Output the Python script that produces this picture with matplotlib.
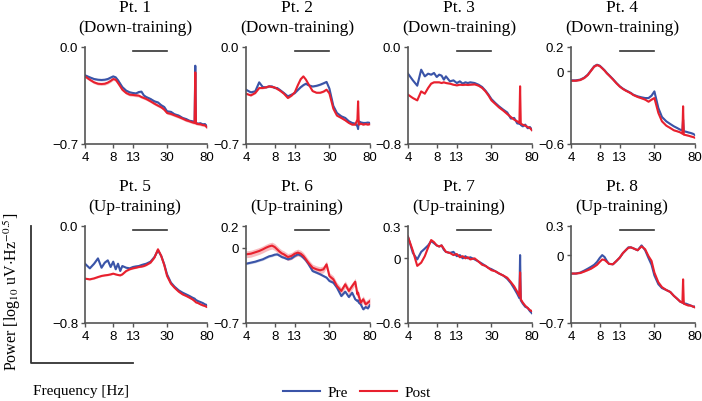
import matplotlib.pyplot as plt
import matplotlib.transforms as mtransforms
from matplotlib.lines import Line2D
from matplotlib.ticker import NullLocator

plt.rcParams["font.family"] = ["Liberation Sans", "DejaVu Sans"]
plt.rcParams["mathtext.fontset"] = "stix"

# frequency grid shared by every spectrum (Hz)
FREQS = [4, 4.5, 5, 5.5, 6, 6.5, 7, 7.5, 8, 8.5, 9, 9.5, 10,
         11, 12, 13, 14, 15, 16, 17, 18,
         20, 22, 24, 26, 28, 30,
         33, 36, 40, 44, 48, 52, 56,
         59, 60, 61,
         64, 68, 72, 76, 80]

pt1_pre = [-0.204, -0.219, -0.231, -0.236, -0.238, -0.236, -0.231, -0.221, -0.212, -0.219, -0.240, -0.265, -0.289,
           -0.315, -0.327, -0.332, -0.335, -0.325, -0.322, -0.350, -0.361,
           -0.375, -0.392, -0.400, -0.420, -0.433, -0.464,
           -0.468, -0.485, -0.495, -0.512, -0.520, -0.532, -0.536,
           -0.544, -0.135, -0.548,
           -0.553, -0.550, -0.558, -0.556, -0.572]
pt1_post = [-0.212, -0.236, -0.255, -0.265, -0.267, -0.265, -0.257, -0.245, -0.231, -0.236, -0.260, -0.284, -0.308,
            -0.332, -0.344, -0.346, -0.349, -0.351, -0.361, -0.368, -0.375,
            -0.392, -0.409, -0.423, -0.435, -0.452, -0.476,
            -0.483, -0.493, -0.505, -0.517, -0.529, -0.536, -0.544,
            -0.548, -0.183, -0.553,
            -0.555, -0.558, -0.563, -0.565, -0.580]

pt2_pre = [-0.308, -0.327, -0.320, -0.255, -0.289, -0.291, -0.284, -0.284, -0.296, -0.296, -0.308, -0.320, -0.332,
           -0.356, -0.344, -0.332, -0.310, -0.290, -0.275, -0.265, -0.275,
           -0.285, -0.280, -0.272, -0.262, -0.252, -0.300,
           -0.425, -0.476, -0.500, -0.512, -0.536, -0.548, -0.553,
           -0.572, -0.592, -0.536,
           -0.544, -0.548, -0.548, -0.545, -0.548]
pt2_post = [-0.337, -0.349, -0.332, -0.296, -0.296, -0.291, -0.284, -0.289, -0.291, -0.303, -0.313, -0.325, -0.337,
            -0.368, -0.351, -0.327, -0.275, -0.232, -0.212, -0.235, -0.265,
            -0.318, -0.330, -0.330, -0.322, -0.308, -0.335,
            -0.445, -0.495, -0.512, -0.529, -0.548, -0.560, -0.560,
            -0.524, -0.392, -0.560,
            -0.553, -0.560, -0.556, -0.560, -0.556]

pt3_pre = [-0.220, -0.275, -0.319, -0.187, -0.242, -0.220, -0.228, -0.214, -0.247, -0.228, -0.236, -0.269, -0.242,
           -0.283, -0.275, -0.297, -0.283, -0.302, -0.291, -0.297, -0.291,
           -0.297, -0.311, -0.330, -0.360, -0.393, -0.429,
           -0.462, -0.489, -0.517, -0.540, -0.590, -0.585, -0.630,
           -0.632, -0.620, -0.643,
           -0.654, -0.640, -0.670, -0.660, -0.682]
pt3_post = [-0.393, -0.421, -0.440, -0.366, -0.385, -0.338, -0.302, -0.291, -0.291, -0.291, -0.297, -0.291, -0.297,
            -0.302, -0.311, -0.316, -0.311, -0.313, -0.311, -0.313, -0.311,
            -0.308, -0.319, -0.338, -0.366, -0.401, -0.440,
            -0.470, -0.498, -0.525, -0.553, -0.577, -0.599, -0.613,
            -0.627, -0.324, -0.632,
            -0.641, -0.649, -0.660, -0.668, -0.687]

pt4_pre = [-0.075, -0.075, -0.069, -0.053, -0.028, 0.008, 0.041, 0.054, 0.046, 0.027, 0.008, -0.014, -0.031,
           -0.064, -0.097, -0.124, -0.143, -0.157, -0.168, -0.179, -0.193,
           -0.207, -0.215, -0.221, -0.221, -0.201, -0.166,
           -0.303, -0.377, -0.413, -0.435, -0.454, -0.468, -0.482,
           -0.487, -0.400, -0.495,
           -0.498, -0.504, -0.509, -0.515, -0.526]
pt4_post = [-0.078, -0.078, -0.072, -0.056, -0.031, 0.005, 0.038, 0.051, 0.043, 0.024, 0.005, -0.017, -0.034,
            -0.067, -0.100, -0.127, -0.146, -0.160, -0.171, -0.182, -0.196,
            -0.212, -0.223, -0.234, -0.251, -0.234, -0.221,
            -0.344, -0.413, -0.449, -0.468, -0.487, -0.495, -0.504,
            -0.515, -0.289, -0.523,
            -0.526, -0.531, -0.537, -0.542, -0.548]

pt5_pre = [-0.311, -0.349, -0.311, -0.267, -0.344, -0.302, -0.283, -0.338, -0.294, -0.357, -0.311, -0.371, -0.330,
           -0.344, -0.349, -0.338, -0.333, -0.330, -0.322, -0.316, -0.311,
           -0.294, -0.256, -0.201, -0.247, -0.316, -0.399,
           -0.467, -0.500, -0.531, -0.550, -0.564, -0.577, -0.591,
           -0.599, -0.605, -0.610,
           -0.619, -0.627, -0.635, -0.646, -0.652]
pt5_post = [-0.434, -0.440, -0.432, -0.421, -0.412, -0.407, -0.404, -0.399, -0.393, -0.399, -0.404, -0.407, -0.399,
            -0.371, -0.357, -0.349, -0.344, -0.338, -0.335, -0.330, -0.322,
            -0.302, -0.261, -0.192, -0.247, -0.322, -0.412,
            -0.476, -0.509, -0.542, -0.564, -0.577, -0.591, -0.605,
            -0.619, -0.624, -0.630,
            -0.635, -0.646, -0.654, -0.660, -0.668]

pt6_pre = [-0.150, -0.140, -0.131, -0.119, -0.109, -0.094, -0.081, -0.075, -0.066, -0.063, -0.075, -0.088, -0.094,
           -0.109, -0.100, -0.078, -0.063, -0.072, -0.094, -0.119, -0.150,
           -0.218, -0.233, -0.248, -0.264, -0.279, -0.310,
           -0.326, -0.372, -0.450, -0.409, -0.459, -0.419, -0.480,
           -0.496, -0.490, -0.511,
           -0.527, -0.573, -0.552, -0.564, -0.533]
pt6_post = [-0.063, -0.057, -0.044, -0.032, -0.017, -0.001, 0.011, 0.018, 0.005, -0.017, -0.038, -0.054, -0.063,
            -0.088, -0.078, -0.057, -0.047, -0.057, -0.078, -0.109, -0.140,
            -0.187, -0.202, -0.211, -0.202, -0.156, -0.264,
            -0.295, -0.357, -0.403, -0.341, -0.403, -0.357, -0.317,
            -0.434, -0.419, -0.450,
            -0.511, -0.480, -0.527, -0.511, -0.496]

pt7_pre = [0.20, 0.05, -0.01, 0.06, 0.09, 0.12, 0.16, 0.14, 0.12, 0.11, 0.12, 0.08, 0.06,
           0.05, 0.06, 0.02, 0.03, 0.00, 0.02, 0.00, 0.01,
           -0.01, -0.03, -0.05, -0.07, -0.09, -0.10,
           -0.12, -0.14, -0.16, -0.19, -0.23, -0.28, -0.33,
           -0.37, 0.03, -0.39,
           -0.42, -0.45, -0.46, -0.49, -0.51]
pt7_post = [0.20, 0.07, -0.07, -0.04, 0.02, 0.10, 0.17, 0.15, 0.12, 0.11, 0.12, 0.09, 0.06,
            0.05, 0.03, 0.04, 0.01, 0.02, 0.00, 0.01, -0.01,
            0.00, -0.03, -0.06, -0.07, -0.09, -0.11,
            -0.12, -0.14, -0.16, -0.18, -0.22, -0.26, -0.31,
            -0.35, -0.13, -0.38,
            -0.41, -0.44, -0.46, -0.48, -0.49]

pt8_pre = [-0.19, -0.19, -0.18, -0.16, -0.14, -0.12, -0.10, -0.07, -0.03, 0.00, -0.02, -0.06, -0.09,
           -0.095, -0.06, -0.025, 0.02, 0.05, 0.08, 0.08, 0.07,
           0.05, 0.10, 0.05, -0.03, -0.10, -0.21,
           -0.30, -0.34, -0.36, -0.38, -0.42, -0.45, -0.48,
           -0.49, -0.47, -0.50,
           -0.50, -0.51, -0.52, -0.53, -0.53]
pt8_post = [-0.19, -0.19, -0.185, -0.17, -0.155, -0.14, -0.12, -0.10, -0.07, -0.045, -0.05, -0.07, -0.09,
            -0.095, -0.06, -0.025, 0.02, 0.05, 0.075, 0.08, 0.07,
            0.05, 0.09, 0.06, -0.01, -0.06, -0.18,
            -0.28, -0.33, -0.36, -0.38, -0.42, -0.45, -0.48,
            -0.49, -0.25, -0.50,
            -0.51, -0.52, -0.52, -0.53, -0.54]

PRE = [pt1_pre, pt2_pre, pt3_pre, pt4_pre, pt5_pre, pt6_pre, pt7_pre, pt8_pre]
POST = [pt1_post, pt2_post, pt3_post, pt4_post, pt5_post, pt6_post, pt7_post, pt8_post]
SEM_PRE = [0.008, 0.006, 0.006, 0.006, 0.006, 0.010, 0.004, 0.004]
SEM_POST = [0.010, 0.006, 0.006, 0.006, 0.006, 0.032, 0.004, 0.004]

TITLES = ["Pt. 1", "Pt. 2", "Pt. 3", "Pt. 4", "Pt. 5", "Pt. 6", "Pt. 7", "Pt. 8"]
GROUPS = ["(Down-training)"] * 4 + ["(Up-training)"] * 4
YLIMS = [(-0.7, 0.0), (-0.7, 0.0), (-0.8, 0.0), (-0.6, 0.2),
         (-0.8, 0.0), (-0.7, 0.2), (-0.6, 0.3), (-0.7, 0.3)]
YTICKS = [[-0.7, 0.0], [-0.7, 0.0], [-0.8, 0.0], [-0.6, 0, 0.2],
          [-0.8, 0.0], [-0.7, 0, 0.2], [-0.6, 0, 0.3], [-0.7, 0, 0.3]]
YTICKLABELS = [["\u22120.7", "0.0"], ["\u22120.7", "0.0"], ["\u22120.8", "0.0"], ["\u22120.6", "0", "0.2"],
               ["\u22120.8", "0.0"], ["\u22120.7", "0", "0.2"], ["\u22120.6", "0", "0.3"], ["\u22120.7", "0", "0.3"]]
XTICKS = [4, 8, 13, 30, 80]
BETA_BAND = [13, 30]

BLUE = "#3a54a8"
RED = "#e8202e"
AXCOL = "#555555"
SERIF = ["Liberation Serif", "DejaVu Serif"]

W, H = 702, 402
fig = plt.figure(figsize=(W / 100, H / 100), dpi=100)

lefts = [85, 246, 408, 571]
widths = [122, 124, 124, 124]
bottoms = [145, 324]
ax_h = 97

for i in range(8):
    row, col = divmod(i, 4)
    ax = fig.add_axes([lefts[col] / W, 1 - bottoms[row] / H, widths[col] / W, ax_h / H])
    pre, post = PRE[i], POST[i]
    ax.fill_between(FREQS, [v - SEM_PRE[i] for v in pre], [v + SEM_PRE[i] for v in pre],
                    color=BLUE, alpha=0.3, lw=0)
    ax.plot(FREQS, pre, color=BLUE, lw=1.5)
    ax.fill_between(FREQS, [v - SEM_POST[i] for v in post], [v + SEM_POST[i] for v in post],
                    color=RED, alpha=0.3, lw=0)
    ax.plot(FREQS, post, color=RED, lw=1.5)

    ax.set_xscale("log")
    ax.set_xlim(4, 80)
    ax.set_xticks(XTICKS)
    ax.set_xticklabels([str(t) for t in XTICKS])
    ax.xaxis.set_minor_locator(NullLocator())
    ax.set_ylim(*YLIMS[i])
    ax.set_yticks(YTICKS[i])
    ax.set_yticklabels(YTICKLABELS[i])
    for side in ["top", "right"]:
        ax.spines[side].set_visible(False)
    for side in ["left", "bottom"]:
        ax.spines[side].set_color(AXCOL)
        ax.spines[side].set_linewidth(1.2)
    ax.tick_params(length=3, width=1, color=AXCOL, labelsize=9.5, pad=2)

    trans = mtransforms.blended_transform_factory(ax.transData, ax.transAxes)
    ax.plot(BETA_BAND, [0.955, 0.955], transform=trans, color="#333333", lw=1.2, clip_on=False)

    ax.text(0.41, 1.37, TITLES[i], transform=ax.transAxes, ha="center", va="baseline",
            family=SERIF, fontsize=12.5)
    ax.text(0.41, 1.16, GROUPS[i], transform=ax.transAxes, ha="center", va="baseline",
            family=SERIF, fontsize=12.5)

# L-shaped scale axes on the lower left
fig.add_artist(Line2D([31 / W, 31 / W, 133 / W], [1 - 227 / H, 1 - 364 / H, 1 - 364 / H],
                      color="#333333", lw=1.3))
fig.text(12 / W, 1 - 292 / H, r"Power [log$_{10}$ uV$\cdot$Hz$^{-0.5}$]", rotation=90,
         ha="center", va="center", family=SERIF, fontsize=11.5)
fig.text(33 / W, 1 - 392 / H, "Frequency [Hz]", ha="left", va="center", family=SERIF, fontsize=11)

handles = [Line2D([], [], color=BLUE, lw=1.5, label="Pre"),
           Line2D([], [], color=RED, lw=1.5, label="Post")]
fig.legend(handles=handles, loc="center", bbox_to_anchor=(357 / W, 1 - 393 / H), ncol=2,
           frameon=False, prop={"family": SERIF, "size": 11}, handlelength=2.4,
           handletextpad=0.5, columnspacing=0.8, borderpad=0)

fig.savefig("out.png", dpi=100)
